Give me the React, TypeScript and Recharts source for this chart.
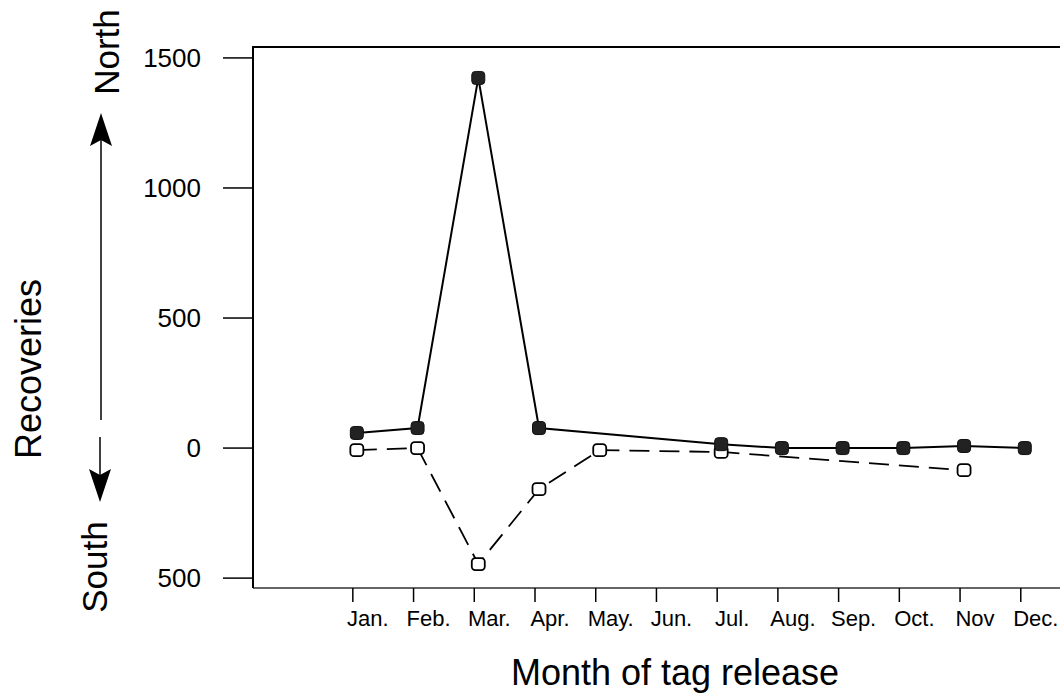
import React from 'react';
import { LineChart, Line, XAxis, YAxis } from 'recharts';

const months = [1, 2, 3, 4, 5, 6, 7, 8, 9, 10, 11, 12];
const monthLabels = ['Jan.', 'Feb.', 'Mar.', 'Apr.', 'May.', 'Jun.', 'Jul.', 'Aug.', 'Sep.', 'Oct.', 'Nov', 'Dec.'];
const north = [58, 77, 1423, 77, null, null, 15, 0, 0, 0, 8, 0];
const south = [-8, 0, -446, -158, -8, null, -15, null, null, null, -85, null];
const yTicks = [-500, 0, 500, 1000, 1500];

const data = months.map((m, i) => ({ month: m, north: north[i], south: south[i] }));

const FONT = 'Arial, "Liberation Sans", sans-serif';

function FilledDot(props: any) {
  const { cx, cy, index } = props;
  if (cx == null || cy == null || props.value == null) return <g key={'n' + index} />;
  return <rect key={'n' + index} x={cx - 6.5} y={cy - 6.5} width={13} height={13} rx={3.5} fill="#222" stroke="#111" strokeWidth={1} />;
}

function OpenDot(props: any) {
  const { cx, cy, index } = props;
  if (cx == null || cy == null || props.value == null) return <g key={'s' + index} />;
  return <rect key={'s' + index} x={cx - 6.5} y={cy - 6} width={13} height={12} rx={3.5} fill="#fff" stroke="#000" strokeWidth={1.8} />;
}

function MonthTick(props: any) {
  const { x, y, payload } = props;
  const label = monthLabels[payload.value - 1];
  return (
    <g>
      <line x1={x - 4} y1={y} x2={x - 4} y2={y + 14} stroke="#000" strokeWidth={1.5} />
      <text x={x + 11} y={y + 38} textAnchor="middle" fontSize={22} fontFamily={FONT} fill="#000">
        {label}
      </text>
    </g>
  );
}

export default function App() {
  return (
    <div style={{ position: 'absolute', left: 0, top: 0, width: 1060, height: 696, background: '#fff' }}>
      <LineChart width={1060} height={696} data={data} margin={{ top: 47, right: 0, bottom: 0, left: 0 }}>
        <XAxis
          dataKey="month"
          type="number"
          domain={[-0.71, 12.58]}
          ticks={months}
          allowDataOverflow
          height={108}
          tickLine={false}
          tickSize={0}
          tickMargin={0}
          tick={<MonthTick />}
          axisLine={{ stroke: '#666', strokeWidth: 2 }}
        />
        <YAxis
          type="number"
          domain={[-538, 1542]}
          ticks={yTicks}
          allowDataOverflow
          width={253}
          tickSize={30}
          tickMargin={22}
          tickFormatter={(v: number) => String(Math.abs(v))}
          tick={{ fontSize: 26, fontFamily: FONT, fill: '#000' }}
          tickLine={{ stroke: '#000', strokeWidth: 1.5 }}
          axisLine={{ stroke: '#000', strokeWidth: 2 }}
        />
        <Line
          dataKey="south"
          stroke="#000"
          strokeWidth={1.8}
          strokeDasharray="20 10"
          connectNulls
          dot={(p: any) => <OpenDot {...p} />}
          activeDot={false}
          isAnimationActive={false}
        />
        <Line
          dataKey="north"
          stroke="#000"
          strokeWidth={2}
          connectNulls
          dot={(p: any) => <FilledDot {...p} />}
          activeDot={false}
          isAnimationActive={false}
        />
      </LineChart>
      <svg width={1060} height={696} style={{ position: 'absolute', left: 0, top: 0, pointerEvents: 'none' }}>
        <line x1={252} y1={47} x2={1060} y2={47} stroke="#000" strokeWidth={2} />
        <text x={675} y={685} textAnchor="middle" fontSize={36} fontFamily={FONT} fill="#000">
          Month of tag release
        </text>
        <text x={41} y={369} textAnchor="middle" fontSize={36} fontFamily={FONT} fill="#000" transform="rotate(-90 41 369)">
          Recoveries
        </text>
        <text x={119} y={52} textAnchor="middle" fontSize={35} fontFamily={FONT} fill="#000" transform="rotate(-90 119 52)">
          North
        </text>
        <text x={107} y={567} textAnchor="middle" fontSize={35} fontFamily={FONT} fill="#000" transform="rotate(-90 107 567)">
          South
        </text>
        <line x1={101} y1={420} x2={101} y2={140} stroke="#000" strokeWidth={1.5} />
        <polygon points="101,113 90,146 101,140 112,146" fill="#000" />
        <line x1={100} y1={437} x2={100} y2={476} stroke="#000" strokeWidth={1.5} />
        <polygon points="100,502 89,469 100,475 111,469" fill="#000" />
      </svg>
    </div>
  );
}
